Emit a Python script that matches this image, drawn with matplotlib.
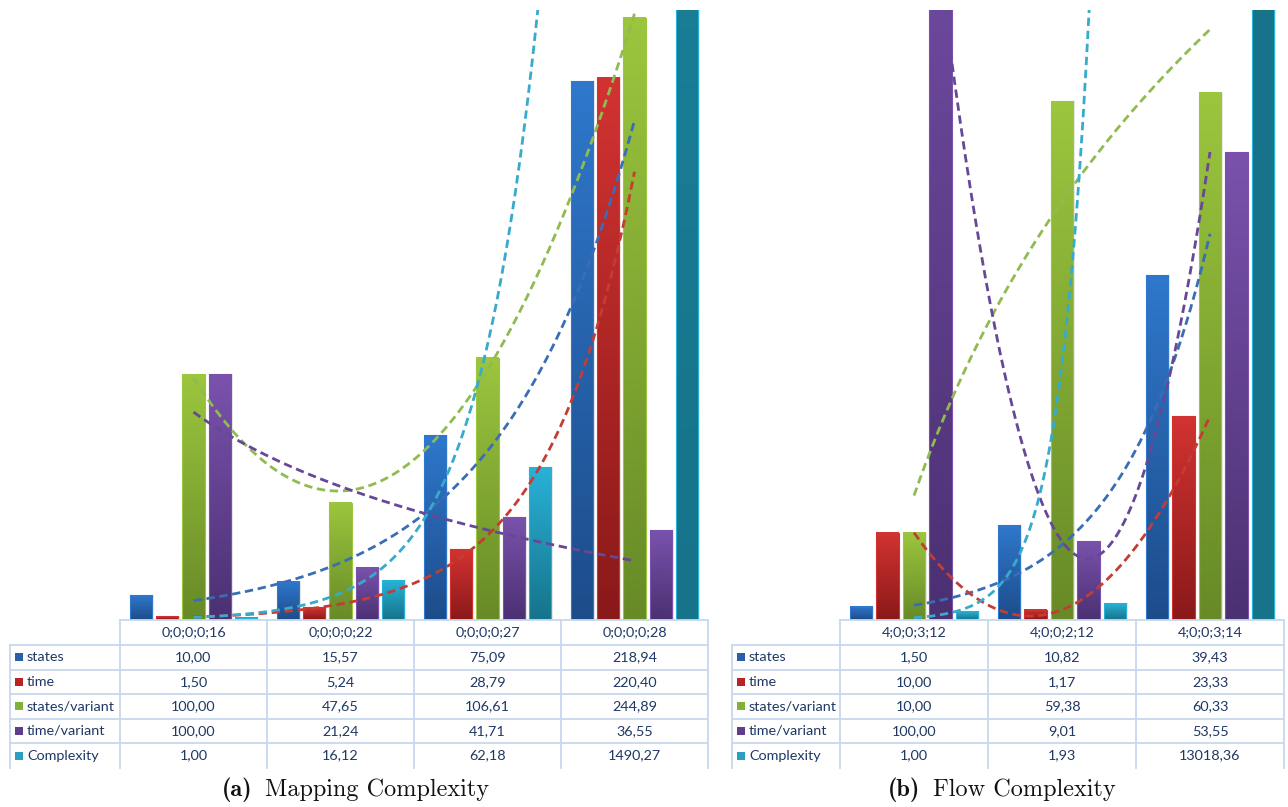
import numpy as np
import matplotlib
matplotlib.use("Agg")
import matplotlib.pyplot as plt
from matplotlib.colors import LinearSegmentedColormap
from matplotlib.patches import Rectangle
from matplotlib.lines import Line2D

# --- data -------------------------------------------------------------
series_names = ['states', 'time', 'states/variant', 'time/variant', 'Complexity']

cats_a = ['0;0;0;0;16', '0;0;0;0;22', '0;0;0;0;27', '0;0;0;0;28']
states_a = [10.00, 15.57, 75.09, 218.94]
time_a = [1.50, 5.24, 28.79, 220.40]
spv_a = [100.00, 47.65, 106.61, 244.89]
tpv_a = [100.00, 21.24, 41.71, 36.55]
cplx_a = [1.00, 16.12, 62.18, 1490.27]
trend_a = ['exp', 'exp', 'poly2', 'log', 'exp']

cats_b = ['4;0;0;3;12', '4;0;0;2;12', '4;0;0;3;14']
states_b = [1.50, 10.82, 39.43]
time_b = [10.00, 1.17, 23.33]
spv_b = [10.00, 59.38, 60.33]
tpv_b = [100.00, 9.01, 53.55]
cplx_b = [1.00, 1.93, 13018.36]
trend_b = ['exp', 'poly2', 'log', 'poly2', 'exp']

# (top, bottom) gradient colours of the bars, and trendline colours
bar_cols = [('#2f78cc', '#1d4c8a'), ('#d23331', '#8a1919'), ('#9cc63e', '#678a27'),
            ('#7a52ad', '#4b3072'), ('#29b2d8', '#16738a')]
key_cols = ['#2a5ea8', '#b52525', '#82b03a', '#5e3d8c', '#2a9fc0']
line_cols = ['#3a6db5', '#c43d33', '#8fbb50', '#674896', '#38aacb']

W, H = 1288, 807
fig = plt.figure(figsize=(W / 100, H / 100), dpi=100)
fig.patch.set_facecolor('white')

TXT = '#1f3864'
GRID = '#c8d8ee'


def fx(x):
    return x / W


def fy(y):
    return 1 - y / H


def trend(xs, ys, kind, xx):
    xs = np.asarray(xs, float)
    ys = np.asarray(ys, float)
    if kind == 'exp':
        b, a = np.polyfit(xs, np.log(ys), 1)
        return np.exp(a + b * xx)
    if kind == 'log':
        b, a = np.polyfit(np.log(xs), ys, 1)
        return a + b * np.log(xx)
    p = np.polyfit(xs, ys, 2)
    return np.polyval(p, xx)


def panel(left, width, cats, data, kinds, ymax):
    ax = fig.add_axes([fx(left), fy(620), fx(width), fy(10) - fy(620)])
    n = len(cats)
    bw = 0.15
    step = 0.1786
    for k, vals in enumerate(data):
        top, bot = bar_cols[k]
        cmap = LinearSegmentedColormap.from_list('g%d' % k, [bot, top])
        offs = (k - 2) * step
        for i, v in enumerate(vals):
            x0 = i + offs - bw / 2
            # soft shadow
            ax.add_patch(Rectangle((x0 + 0.012, 0), bw, v, facecolor='#000000',
                                   alpha=0.08, edgecolor='none', zorder=1))
            ax.imshow(np.linspace(0, 1, 256).reshape(-1, 1), cmap=cmap,
                      origin='lower', extent=[x0, x0 + bw, 0, v],
                      aspect='auto', zorder=2, interpolation='bilinear')
            ax.add_patch(Rectangle((x0, 0), bw, v, facecolor='none',
                                   edgecolor=top, lw=0.8, zorder=3))
    xx = np.linspace(1, n, 300)
    for k, vals in enumerate(data):
        yy = trend(np.arange(1, n + 1), vals, kinds[k], xx)
        ax.plot(xx - 1, yy, color=line_cols[k], lw=2.0, ls=(0, (3, 1.7)),
                zorder=4)
    ax.set_xlim(-0.5, n - 0.5)
    ax.set_ylim(0, ymax)
    ax.axis('off')


def table(lab_x, left, width, cats, data):
    n = len(cats)
    colw = width / n
    xs = [left + colw * i for i in range(n + 1)]
    rows = [620, 645, 669.5, 694, 718.5, 743, 768]
    kw = dict(color=GRID, lw=1.3, transform=fig.transFigure)
    fig.add_artist(Line2D([fx(left), fx(left + width)], [fy(620), fy(620)], **kw))
    for y in rows[1:-1]:
        fig.add_artist(Line2D([fx(lab_x), fx(left + width)], [fy(y), fy(y)], **kw))
    fig.add_artist(Line2D([fx(lab_x), fx(lab_x)], [fy(645), fy(768)], **kw))
    for x in xs:
        fig.add_artist(Line2D([fx(x), fx(x)], [fy(620), fy(768)], **kw))
    tk = dict(fontsize=10.4, color=TXT, family='Lato', va='center')
    for i, c in enumerate(cats):
        fig.text(fx(left + colw * (i + 0.5)), fy(632.5), c, ha='center', **tk)
    for k, vals in enumerate(data):
        yc = (rows[k + 1] + rows[k + 2]) / 2
        fig.add_artist(Rectangle((fx(lab_x + 5), fy(yc + 4)), fx(8), fy(0) - fy(8),
                                 facecolor=key_cols[k], edgecolor='none',
                                 transform=fig.transFigure))
        fig.text(fx(lab_x + 17), fy(yc), series_names[k], ha='left', **tk)
        for i, v in enumerate(vals):
            s = ('%.2f' % v).replace('.', ',')
            fig.text(fx(left + colw * (i + 0.5)), fy(yc), s, ha='center', **tk)


data_a = [states_a, time_a, spv_a, tpv_a, cplx_a]
data_b = [states_b, time_b, spv_b, tpv_b, cplx_b]

panel(120, 588, cats_a, data_a, trend_a, 248)
panel(840, 444, cats_b, data_b, trend_b, 69.8)
table(10, 120, 588, cats_a, data_a)
table(732, 840, 444, cats_b, data_b)

# sub-figure captions: bold tag + regular title
cap = dict(fontsize=17.5, va='baseline', color='#111111')
fig.text(fx(252), fy(796), '(a)', family='cmb10', ha='right', **cap)
fig.text(fx(265), fy(796), 'Mapping Complexity', family='cmr10', ha='left', **cap)
fig.text(fx(920), fy(796), '(b)', family='cmb10', ha='right', **cap)
fig.text(fx(933), fy(796), 'Flow Complexity', family='cmr10', ha='left', **cap)

fig.savefig('out.png', dpi=100, facecolor='white')
